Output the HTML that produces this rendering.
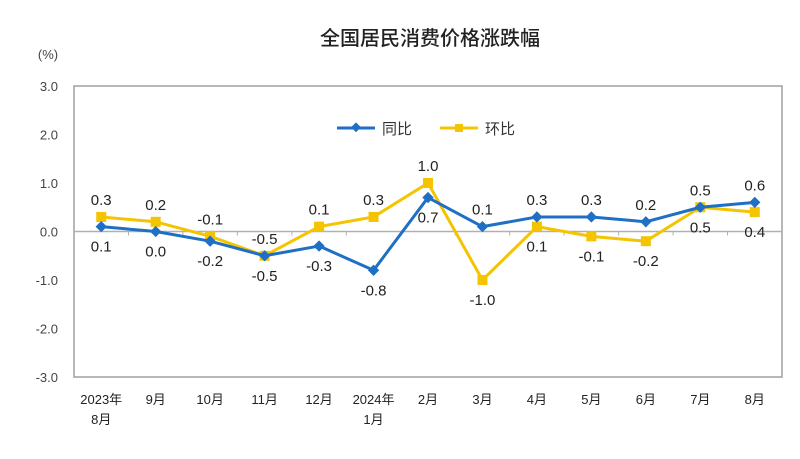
<!DOCTYPE html>
<html><head><meta charset="utf-8"><style>
body{margin:0;background:#fff;}
svg text{font-family:"Liberation Sans","Noto Sans CJK SC",sans-serif;}
</style></head><body>
<svg id="chart" width="800" height="454" viewBox="0 0 800 454">
<text x="430" y="45" text-anchor="middle" font-size="20" font-weight="500" fill="#222">全国居民消费价格涨跌幅</text>
<text x="48" y="59" text-anchor="middle" font-size="13" fill="#444">(%)</text>
<rect x="74" y="86" width="708" height="291" fill="none" stroke="#a0a0a0" stroke-width="1.5"/>
<g id="axes"></g>
<g id="series"></g>
<g>
<g>
<line x1="337" y1="128" x2="375" y2="128" stroke="#1f6fc5" stroke-width="3"/>
<rect x="352" y="124" width="7" height="7" fill="#1f6fc5" transform="rotate(45 356 128)"/>
<text x="382" y="134" font-size="15" fill="#333">同比</text></g>
<g>
<line x1="440" y1="128" x2="478" y2="128" stroke="#f5c400" stroke-width="3"/>
<rect x="455" y="124" width="8" height="8" fill="#f5c400"/>
<text x="485" y="134" font-size="15" fill="#333">环比</text></g>
</g>
</svg>
<script>
const categories=["2023年|8月","9月","10月","11月","12月","2024年|1月","2月","3月","4月","5月","6月","7月","8月"];
const yoy=[0.1,0.0,-0.2,-0.5,-0.3,-0.8,0.7,0.1,0.3,0.3,0.2,0.5,0.6];
const mom=[0.3,0.2,-0.1,-0.5,0.1,0.3,1.0,-1.0,0.1,-0.1,-0.2,0.5,0.4];
const yTicks=[3,2,1,0,-1,-2,-3];
const yoyAbove=[0,0,0,0,0,0,0,1,1,1,1,1,1];
const momAbove=[1,1,1,1,1,1,1,0,0,0,0,0,0];
const L=74,R=782,T=86,B=377,NS="http://www.w3.org/2000/svg";
const bw=(R-L)/categories.length;
const xs=i=>L+bw*(i+0.5);
const ys=v=>T+(3-v)/6*(B-T);
function mk(tag,attrs,parent,text){const e=document.createElementNS(NS,tag);for(const k in attrs)e.setAttribute(k,attrs[k]);if(text!==undefined)e.textContent=text;parent.appendChild(e);return e;}
const ax=document.getElementById('axes'),sg=document.getElementById('series');
yTicks.forEach(v=>{const t=mk('text',{x:58,y:ys(v)+5,'text-anchor':'end','font-size':13,fill:'#444'},ax,v.toFixed(1));

});
const z=mk('line',{x1:L,x2:R,y1:ys(0),y2:ys(0),stroke:'#b0b0b0','stroke-width':1.5},ax);


categories.forEach((c,i)=>{
 if(i>0){const tk=mk('line',{x1:L+bw*i,x2:L+bw*i,y1:ys(0),y2:ys(0)+4,stroke:'#b0b0b0'},ax);
 
 }
 const parts=c.split('|');
 parts.forEach((p,j)=>{const t=mk('text',{x:xs(i),y:404+j*20,'text-anchor':'middle','font-size':13,fill:'#222','font-family':'"Liberation Serif","Noto Serif CJK SC",serif'},ax,p);
 
 });
});
function series(vals,color,name,marker,above){
 const pl=mk('polyline',{points:vals.map((v,i)=>xs(i)+','+ys(v)).join(' '),fill:'none',stroke:color,'stroke-width':3,'stroke-linejoin':'round'},sg);
 
 
 vals.forEach((v,i)=>{
  const x=xs(i),y=ys(v);let m;
  if(marker==='diamond'){m=mk('rect',{x:x-4,y:y-4,width:8,height:8,fill:color,transform:`rotate(45 ${x} ${y})`},sg);}
  else{m=mk('rect',{x:x-5,y:y-5,width:10,height:10,fill:color},sg);}
  
  
  const t=mk('text',{x:x,y:above[i]?y-12:y+25,'text-anchor':'middle','font-size':15,fill:'#222'},sg,v.toFixed(1));
  
  
 });
}
series(mom,'#f5c400','mom','square',momAbove);
series(yoy,'#1f6fc5','yoy','diamond',yoyAbove);
</script>
</body></html>
